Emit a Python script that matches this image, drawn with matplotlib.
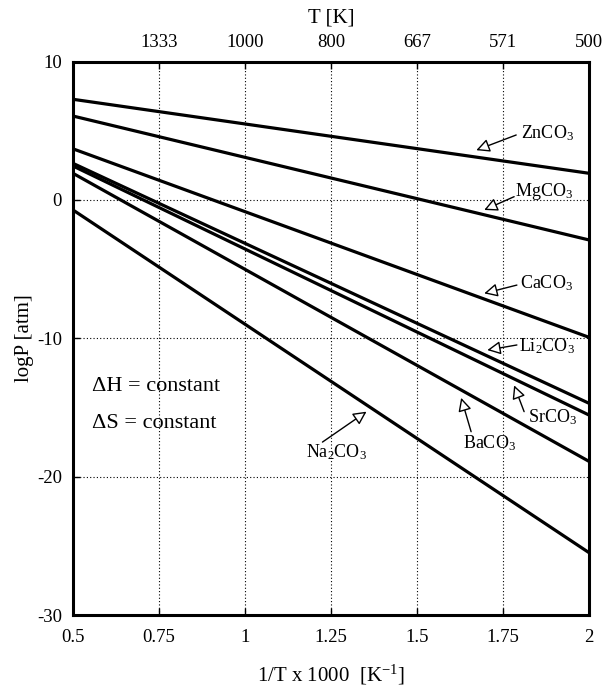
import matplotlib
matplotlib.use("Agg")
import matplotlib.pyplot as plt
import numpy as np

plt.rcParams["font.family"] = ["Liberation Serif", "DejaVu Serif"]
plt.rcParams["mathtext.fontset"] = "custom"
plt.rcParams["mathtext.rm"] = "Liberation Serif"
plt.rcParams["mathtext.default"] = "regular"

# data: logP at 1/T*1000 = 0.5 and 2.0
compounds = ["ZnCO$_3$", "MgCO$_3$", "CaCO$_3$", "Li$_2$CO$_3$",
             "SrCO$_3$", "BaCO$_3$", "Na$_2$CO$_3$"]
logp_left = [7.28, 6.07, 3.70, 2.65, 2.46, 1.93, -0.72]
logp_right = [1.93, -2.89, -9.93, -14.7, -15.55, -18.9, -25.5]
x_ends = [0.5, 2.0]

# label position, arrow tail, arrow head (data coords)
label_xy = [(1.878, 4.84), (1.869, 0.60), (1.875, -6.03), (1.878, -10.6),
            (1.895, -15.67), (1.71, -17.6), (1.266, -18.2)]
tail_xy = [(1.788, 4.7), (1.782, 0.24), (1.79, -6.15), (1.79, -10.48),
           (1.811, -15.3), (1.657, -16.75), (1.225, -17.5)]
head_xy = [(1.672, 3.6), (1.695, -0.72), (1.695, -6.75), (1.704, -10.85),
           (1.782, -13.4), (1.628, -14.3), (1.353, -15.3)]

xticks = [0.5, 0.75, 1, 1.25, 1.5, 1.75, 2]
xtick_labels = ["0.5", "0.75", "1", "1.25", "1.5", "1.75", "2"]
yticks = [-30, -20, -10, 0, 10]
ytick_labels = ["-30", "-20", "-10", "0", "10"]
top_ticks = [0.75, 1, 1.25, 1.5, 1.75, 2]
top_labels = ["1333", "1000", "800", "667", "571", "500"]

fig = plt.figure(figsize=(6.08, 6.89), dpi=100)
ax = fig.add_axes([0.12, 0.1074, 0.849, 0.8031])

for i in range(len(compounds)):
    ax.plot(x_ends, [logp_left[i], logp_right[i]], color="black", lw=2.3,
            solid_capstyle="butt")
    ax.annotate("", xy=head_xy[i], xytext=tail_xy[i],
                arrowprops=dict(arrowstyle="-|>", fc="white", ec="black",
                                lw=1.0, mutation_scale=20,
                                shrinkA=0, shrinkB=0))
    ax.text(label_xy[i][0], label_xy[i][1], compounds[i], fontsize=13,
            ha="center", va="center")

ax.text(0.556, -13.5, "ΔH = constant", fontsize=16, ha="left", va="center")
ax.text(0.556, -16.15, "ΔS = constant", fontsize=16, ha="left", va="center")

ax.set_xlim(0.5, 2)
ax.set_ylim(-30, 10)
ax.set_xticks(xticks)
ax.set_xticklabels(xtick_labels, fontsize=13.5)
ax.set_yticks(yticks)
ax.set_yticklabels(ytick_labels, fontsize=13.5)
ax.tick_params(direction="in", length=5, width=1)
ax.tick_params(axis="x", pad=10)
ax.tick_params(axis="y", pad=8)
ax.grid(True, ls=(0, (1, 2)), color="black", lw=0.8)
for s in ax.spines.values():
    s.set_linewidth(2.2)
ax.set_xlabel("1/T x 1000  [K$^{-1}$]", fontsize=15, labelpad=12)
ax.set_ylabel("logP [atm]", fontsize=15, labelpad=2)

top = ax.twiny()
top.set_xlim(ax.get_xlim())
top.set_xticks(top_ticks)
top.set_xticklabels(top_labels, fontsize=13.5)
top.tick_params(direction="in", length=5, width=1, pad=8)
top.set_xlabel("T [K]", fontsize=15, labelpad=8)

fig.savefig("out.png", dpi=100)
